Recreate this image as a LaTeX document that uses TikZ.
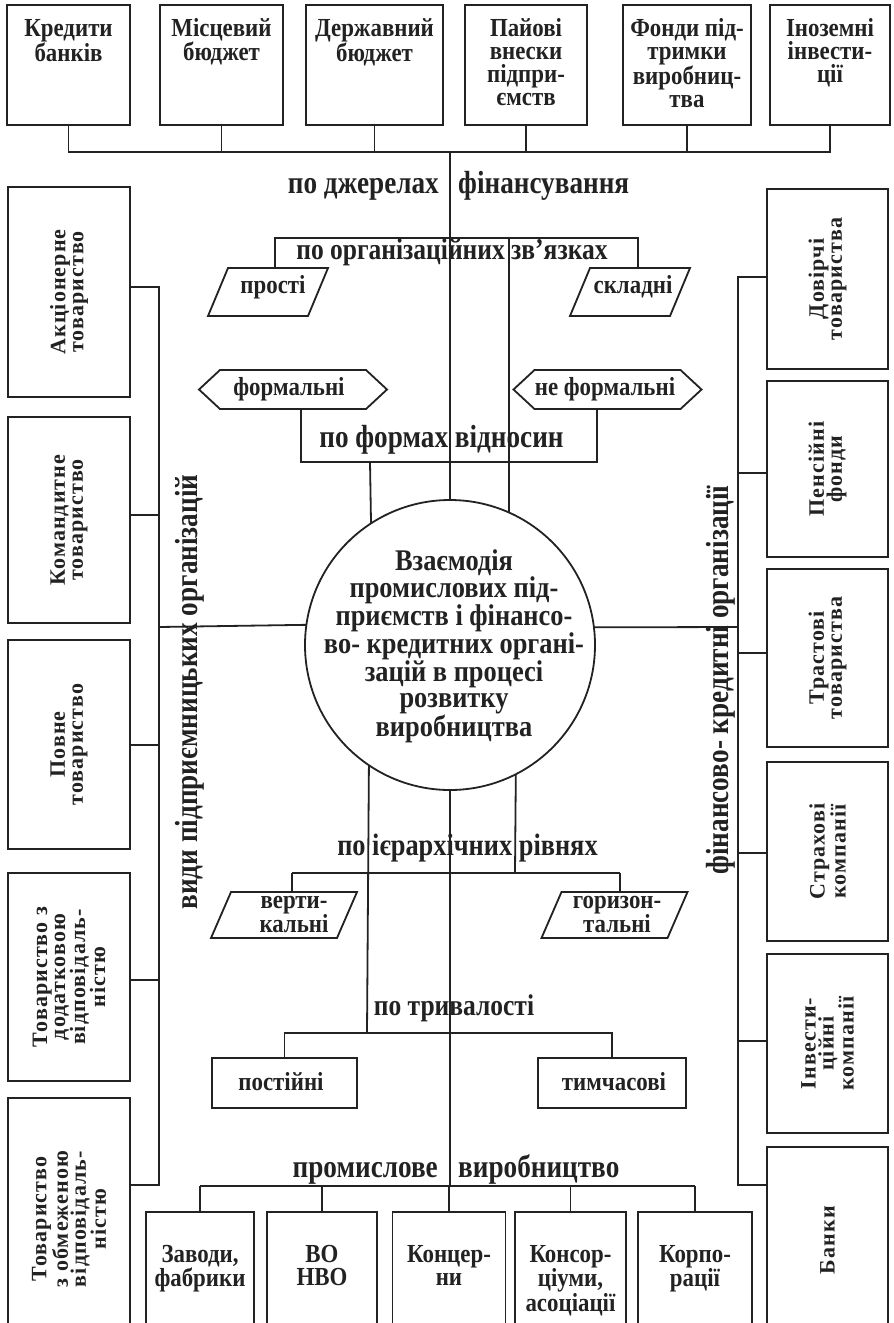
\documentclass[tikz,border=0pt]{standalone}
\usepackage{fontspec}
\setmainfont{Liberation Serif}
\newfontfamily\spc{Liberation Serif}[LetterSpace=5]
\newfontfamily\cnd{Liberation Serif}[FakeStretch=0.85]
\newfontfamily\cnb{Liberation Serif}[FakeStretch=0.88]
\usetikzlibrary{calc}
\definecolor{ink}{HTML}{222222}
\newcommand\tp[1]{\rule{0pt}{#1pt}}
\newcommand\mypara[4]{\draw[ln] ($(#1)+(-#2,#4)$) -- ($(#1)+(#3,#4)$) -- ($(#1)+(#2,-#4)$) -- ($(#1)+(-#3,-#4)$) -- cycle;}
\newcommand\myhex[4]{\draw[ln] ($(#1)+(-#2,0)$) -- ($(#1)+(-#3,-#4)$) -- ($(#1)+(#3,-#4)$) -- ($(#1)+(#2,0)$) -- ($(#1)+(#3,#4)$) -- ($(#1)+(-#3,#4)$) -- cycle;}
\begin{document}
\begin{tikzpicture}[x=1pt,y=-1pt,
 ln/.style={draw=ink,line width=1.8pt},
 box/.style={draw=ink,line width=1.8pt,rectangle,inner sep=0pt,outer sep=0pt},
 frm/.style={rectangle,inner sep=0pt,outer sep=0pt},
 bt/.style={font=\cnb\bfseries\fontsize{26}{23}\selectfont,align=center,inner sep=0pt,text=ink},
 hd/.style={font=\cnd\bfseries\fontsize{32}{32}\selectfont,inner sep=0pt,text=ink},
 st/.style={font=\spc\bfseries\fontsize{22}{18}\selectfont,align=center,rotate=90,inner sep=0pt,text=ink},
 vl/.style={font=\cnd\bfseries\fontsize{32}{32}\selectfont,rotate=90,inner sep=0pt,text=ink},
 ct/.style={font=\cnb\bfseries\fontsize{30}{25.8}\selectfont,align=center,inner sep=0pt,text=ink}]
\useasboundingbox (0,0) rectangle (894,1323);
\fill[white] (0,0) rectangle (894,1323);

% ---- top boxes
\foreach \nm/\cx/\w in {kb/68.5/123, mb/221.5/123, db/374.5/137, pv/526/122, fp/687/128, ii/830/120}
  \node[box,minimum width=\w pt,minimum height=120pt] (\nm) at (\cx,65) {};
\node[bt,anchor=north] (kbt) at (68.5,16.5) {\tp{20}Кредити\\банків};
\node[bt,anchor=north] (mbt) at (221.5,16.5) {\tp{20}Місцевий\\бюджет};
\node[bt,anchor=north] (dbt) at (374.5,16.5) {\tp{20}Державний\\бюджет};
\node[bt,anchor=north] (pvt) at (526,16.5) {\tp{20}Пайові\\внески\\підпри-\\ємств};
\node[bt,anchor=north] (fpt) at (687,16.5) {\tp{20}Фонди під-\\тримки\\виробниц-\\тва};
\node[bt,anchor=north] (iit) at (830,16.5) {\tp{20}Іноземні\\інвести-\\ції};

% ---- left boxes
\foreach \nm/\cy/\h in {ak/292/210, km/520/206, pw/744.5/209, dd/977/208, ob/1219/242}
  \node[box,minimum width=122pt,minimum height=\h pt] (\nm) at (69,\cy) {};
\node[st] (akt) at (ak) {Акціонерне\\товариство};
\node[st] (kmt) at (km) {Командитне\\товариство};
\node[st] (pwt) at (pw) {Повне\\товариство};
\node[st] (ddt) at (dd) {Товариство з\\додатковою\\відповідаль-\\ністю};
\node[st] (obt) at (ob) {Товариство\\з обмеженою\\відповідаль-\\ністю};

% ---- right boxes
\foreach \nm/\cy/\h in {dv/279/180, pf/469/176, tr/658/178, sk/851.5/179, ik/1043.5/179, bk/1240/186}
  \node[box,minimum width=121pt,minimum height=\h pt] (\nm) at (827.5,\cy) {};
\node[st] (dvt) at (dv) {Довірчі\\товариства};
\node[st] (pft) at (pf) {Пенсійні\\фонди};
\node[st] (trt) at (tr) {Трастові\\товариства};
\node[st] (skt) at (sk) {Страхові\\компанії};
\node[st] (ikt) at (ik) {Інвести-\\ційні\\компанії};
\node[st] (bkt) at (bk) {Банки};

% ---- vertical labels
\node[vl] (vpo) at (190,692) {види підприємницьких організацій};
\node[vl] (fko) at (721,680) {фінансово- кредитні організації};

% ---- centre
\node[draw=ink,line width=1.8pt,circle,minimum size=290pt,inner sep=0pt,outer sep=0pt] (circ) at (450,645) {};
\node[ct,anchor=north] (circt) at (454,546) {\tp{24}Взаємодія\\промислових під-\\приємств і фінансо-\\во- кредитних органі-\\зацій в процесі\\розвитку\\виробництва};

\node[hd,anchor=base east] (dj1) at (439,193) {по джерелах};
\node[hd,anchor=base west] (dj2) at (458,193) {фінансування};

\node[frm,minimum width=363pt,minimum height=30pt] (oz) at (456.5,253) {};
\node[hd,font=\cnd\bfseries\fontsize{30}{30}\selectfont,anchor=base] (ozt) at (452,259) {по організаційних зв’язках};

\node[frm,minimum width=120pt,minimum height=48pt] (pr) at (268,292) {};
\node[bt,anchor=base] (prt) at (273,293) {прості};
\node[frm,minimum width=120pt,minimum height=48pt] (sk2) at (630,292) {};
\node[bt,anchor=base] (sk2t) at (633,293) {складні};

\node[frm,minimum width=188pt,minimum height=39pt] (hf) at (293,389.5) {};
\node[bt,anchor=base] (hft) at (289,395) {формальні};
\node[frm,minimum width=188pt,minimum height=39pt] (hn) at (607.5,389.5) {};
\node[bt,anchor=base] (hnt) at (605,395) {не формальні};

\node[frm,minimum width=296pt,minimum height=53pt] (fv) at (449,435.5) {};
\node[hd,anchor=base] (fvt) at (441.5,447) {по формах відносин};

\node[hd,font=\cnd\bfseries\fontsize{31}{31}\selectfont,anchor=base] (ier) at (467.5,855) {по ієрархічних рівнях};
\node[frm,minimum width=146pt,minimum height=46pt] (vk) at (284,915) {};
\node[bt,anchor=north] (vkt) at (294,888) {\tp{20}верти-\\кальні};
\node[frm,minimum width=146pt,minimum height=46pt] (hg) at (614.5,915) {};
\node[bt,anchor=north] (hgt) at (617,888) {\tp{20}горизон-\\тальні};

\node[hd,font=\cnd\bfseries\fontsize{30}{30}\selectfont,anchor=base] (trv) at (454,1015) {по тривалості};
\node[box,minimum width=145pt,minimum height=50pt] (ps) at (284.5,1083) {};
\node[bt,anchor=base] (pst) at (281,1090) {постійні};
\node[box,minimum width=148pt,minimum height=50pt] (tm) at (612,1083) {};
\node[bt,anchor=base] (tmt) at (614,1090) {тимчасові};

\node[hd,anchor=base east] (pr1) at (438,1177) {промислове};
\node[hd,anchor=base west] (pr2) at (458,1177) {виробництво};

\foreach \nm/\cx/\w in {zf/200/108, vo/322/110, kc/449/113, ks/570.5/111, kp/695/114}
  \node[box,minimum width=\w pt,minimum height=130pt] (\nm) at (\cx,1277) {};
\node[bt,anchor=north] (zft) at (200,1242) {\tp{20}Заводи,\\фабрики};
\node[bt,anchor=north] (vot) at (322,1242) {\tp{20}ВО\\НВО};
\node[bt,anchor=north] (kct) at (449,1242) {\tp{20}Концер-\\ни};
\node[bt,anchor=north] (kst) at (570.5,1242) {\tp{20}Консор-\\ціуми,\\асоціації};
\node[bt,anchor=north] (kpt) at (695,1242) {\tp{20}Корпо-\\рації};

% ---- shapes drawn as paths
\draw[ln] (oz.south west) |- (oz.north east) -- (oz.south east);
\draw[ln] (fv.north west) |- (fv.south east) -- (fv.north east);
\mypara{pr}{60}{40}{24}
\mypara{sk2}{60}{40}{24}
\myhex{hf}{94}{73}{19.5}
\myhex{hn}{94}{73}{19.5}
\mypara{vk}{73}{53}{23}
\mypara{hg}{73}{53}{23}

% ---- connectors
\coordinate (tbar) at (450,152);
\draw[ln] (kb.south) -- (kb.south |- tbar) -- (ii.south |- tbar) -- (ii.south);
\foreach \nm in {mb,db,pv,fp} \draw[ln] (\nm.south) -- (\nm.south |- tbar);
\draw[ln] (tbar) -- (circ.north);
\coordinate (v2t) at (509,238);
\draw[ln] (v2t) -- (circ.66);
\coordinate (v3t) at (370,462);
\draw[ln] (v3t) -- (circ.123.5);

\coordinate (hL) at (292,873);
\coordinate (hR) at (620,873);
\coordinate (v2b) at (515,873);
\draw[ln] (circ.-63.4) -- (v2b);
\draw[ln] (hL) -- (hR);
\draw[ln] (hL) -- (hL |- vk.north);
\draw[ln] (hR) -- (hR |- hg.north);

\coordinate (tb2) at (367,1033);
\draw[ln] (circ.-124.9) -- (tb2);
\draw[ln] (ps.north) -- (ps.north |- tb2) -- (tm.north |- tb2) -- (tm.north);

\coordinate (pbar) at (450,1186);
\draw[ln] (circ.south) -- (pbar);
\draw[ln] (zf.north |- pbar) -- (kp.north |- pbar);
\foreach \nm in {zf,vo,kc,ks,kp} \draw[ln] (\nm.north |- pbar) -- (\nm.north);

% left spine
\coordinate (lsT) at (159,287);
\coordinate (lsB) at (159,1185);
\draw[ln] (lsT -| ak.east) -- (lsT) -- (lsB) -- (lsB -| ob.east);
\coordinate (l2) at (159,515);
\draw[ln] (l2) -- (l2 -| km.east);
\coordinate (lc) at (159,627);
\draw[ln] (lc) -- (circ.172.9);
\coordinate (l3) at (159,745);
\draw[ln] (l3) -- (l3 -| pw.east);
\coordinate (l4) at (159,980);
\draw[ln] (l4) -- (l4 -| dd.east);

% right spine
\coordinate (rsT) at (738,277);
\coordinate (rsB) at (738,1185);
\draw[ln] (rsT -| dv.west) -- (rsT) -- (rsB) -- (rsB -| bk.west);
\coordinate (r2) at (738,473);
\draw[ln] (r2) -- (r2 -| pf.west);
\coordinate (rc) at (738,627);
\draw[ln] (rc) -- (circ.7.1);
\coordinate (r3) at (738,653);
\draw[ln] (r3) -- (r3 -| tr.west);
\coordinate (r4) at (738,853);
\draw[ln] (r4) -- (r4 -| sk.west);
\coordinate (r5) at (738,1041);
\draw[ln] (r5) -- (r5 -| ik.west);
\end{tikzpicture}
\end{document}
